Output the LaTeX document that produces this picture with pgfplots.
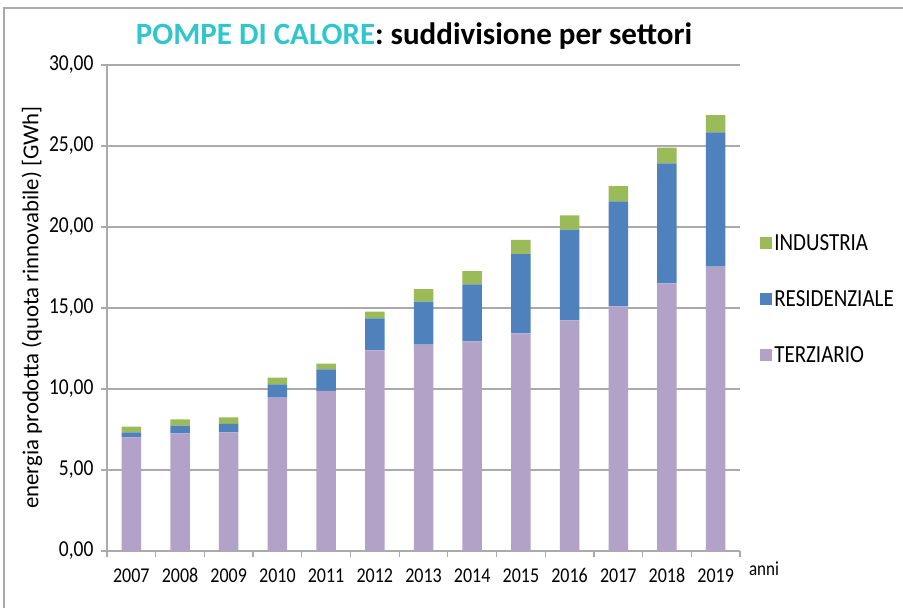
\documentclass[border=0pt]{standalone}
\usepackage{fontspec}
\setmainfont{Carlito}
\usepackage{graphicx}
\usepackage{pgfplots}
\pgfplotsset{compat=1.18}
\definecolor{terz}{RGB}{179,162,199}
\definecolor{resid}{RGB}{79,129,189}
\definecolor{indu}{RGB}{155,187,89}
\definecolor{titlec}{RGB}{49,198,204}
\definecolor{gridc}{RGB}{170,170,170}
\newcommand\vs[1]{\scalebox{1}[1.17]{#1}}
\begin{document}
\begin{tikzpicture}
\useasboundingbox (0pt,0pt) rectangle (903pt,608pt);
\draw[gridc, line width=1.5pt] (4pt,0pt) -- (4pt,600pt) -- (903pt,600pt);
\node[font=\fontsize{31}{34}\selectfont\bfseries, anchor=base, inner sep=0pt] at (414pt,563pt) {\textcolor{titlec}{POMPE DI CALORE}: suddivisione per settori};
\node[font=\fontsize{22.8}{26}\selectfont, rotate=90] at (32pt,300.5pt) {energia prodotta (quota rinnovabile) [GWh]};
\node[font=\fontsize{17}{20}\selectfont] at (764pt,39pt) {\vs{anni}};
\begin{axis}[
 at={(107pt,57pt)}, anchor=south west,
 scale only axis, width=633pt, height=486pt,
 ybar stacked, bar width=19.5pt,
 xmin=-0.5, xmax=12.5, ymin=0, ymax=30,
 xtick={0,...,12},
 xticklabels={\vs{2007},\vs{2008},\vs{2009},\vs{2010},\vs{2011},\vs{2012},\vs{2013},\vs{2014},\vs{2015},\vs{2016},\vs{2017},\vs{2018},\vs{2019}},
 ytick={0,5,...,30},
 yticklabels={\vs{0,00},\vs{5,00},\vs{10,00},\vs{15,00},\vs{20,00},\vs{25,00},\vs{30,00}},
 minor xtick={-0.5,0.5,...,12.5},
 tick align=outside,
 major tick length=6pt, minor tick length=6pt,
 x tick style={draw=none},
 minor x tick style={draw=gridc, line width=1.2pt},
 y tick style={draw=gridc, line width=1.2pt},
 ymajorgrids, grid style={gridc, line width=1.2pt},
 axis lines*=left,
 axis line style={gridc, line width=1.2pt, -},
 xticklabel style={font=\fontsize{18}{22}\selectfont, yshift=-8pt},
 yticklabel style={font=\fontsize{19.5}{23}\selectfont, xshift=-4pt},
 legend style={at={(1.027,0.5185)}, anchor=west, draw=none, fill=none,
   font=\fontsize{21}{25}\selectfont, row sep=38pt,
   nodes={inner sep=2pt, text height=14pt, text depth=0pt}},
 legend cell align=left,
 reverse legend,
 legend image code/.code={\fill[#1] (0pt,-6pt) rectangle (12pt,6pt);},
 clip=false,
]
\addplot[fill=terz, draw=none] coordinates {(0,7.02) (1,7.26) (2,7.33) (3,9.47) (4,9.88) (5,12.39) (6,12.74) (7,12.94) (8,13.44) (9,14.24) (10,15.10) (11,16.52) (12,17.55)};
\addplot[fill=resid, draw=none] coordinates {(0,0.31) (1,0.48) (2,0.51) (3,0.82) (4,1.33) (5,1.97) (6,2.65) (7,3.52) (8,4.89) (9,5.60) (10,6.48) (11,7.41) (12,8.29)};
\addplot[fill=indu, draw=none] coordinates {(0,0.34) (1,0.39) (2,0.41) (3,0.41) (4,0.35) (5,0.41) (6,0.78) (7,0.82) (8,0.87) (9,0.88) (10,0.95) (11,0.97) (12,1.06)};
\legend{\vs{TERZIARIO},\vs{RESIDENZIALE},\vs{INDUSTRIA}}
\end{axis}
\end{tikzpicture}
\end{document}
